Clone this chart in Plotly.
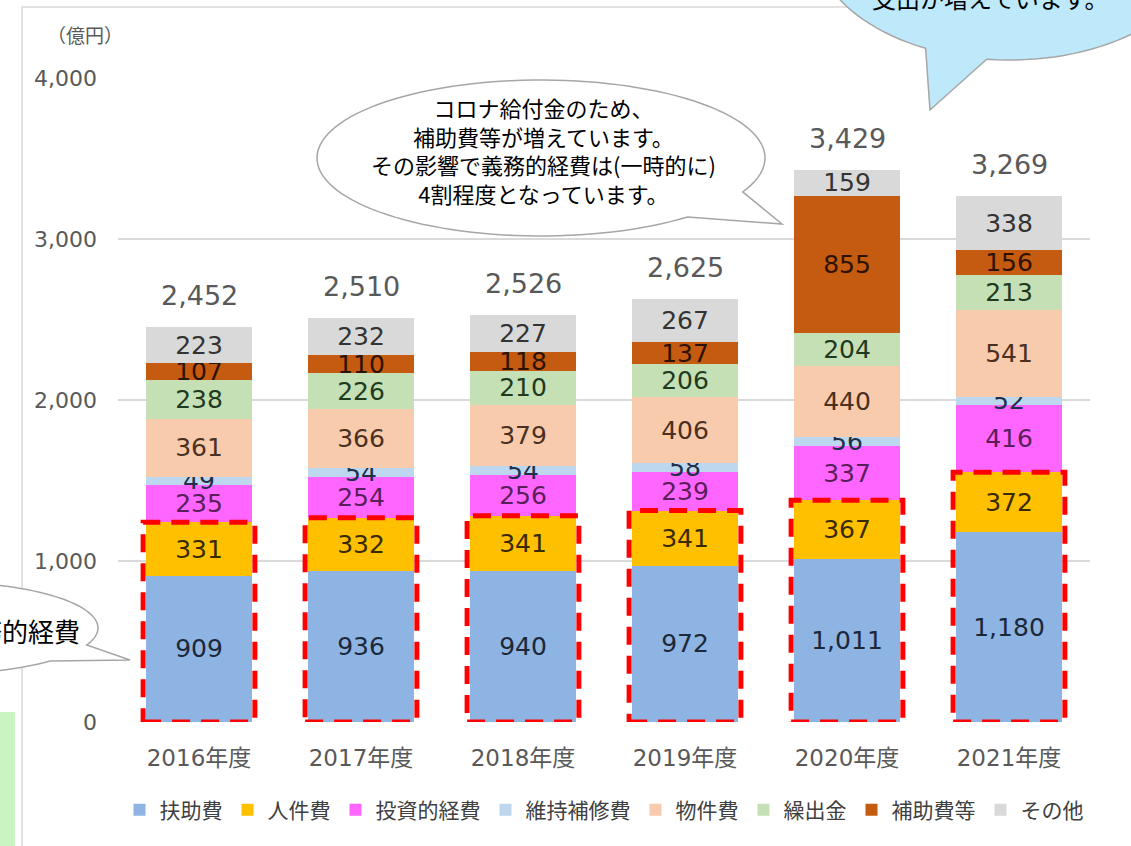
import math
import plotly.graph_objects as go

years = ["2016年度", "2017年度", "2018年度", "2019年度", "2020年度", "2021年度"]
series_names = ["扶助費", "人件費", "投資的経費", "維持補修費", "物件費", "繰出金", "補助費等", "その他"]
fujo = [909, 936, 940, 972, 1011, 1180]
jinken = [331, 332, 341, 341, 367, 372]
toshi = [235, 254, 256, 239, 337, 416]
iji = [49, 54, 54, 58, 56, 52]
bukken = [361, 366, 379, 406, 440, 541]
kuridashi = [238, 226, 210, 206, 204, 213]
hojo = [107, 110, 118, 137, 855, 156]
sonota = [223, 232, 227, 267, 159, 338]
totals = [2452, 2510, 2526, 2625, 3429, 3269]
y_ticks = [0, 1000, 2000, 3000, 4000]

series_values = [fujo, jinken, toshi, iji, bukken, kuridashi, hojo, sonota]
colors = ["#8db4e2", "#ffc000", "#ff66ff", "#bdd7ee", "#f8cbad", "#c5e0b4", "#c55a11", "#d9d9d9"]
text_colors = ["#1c2838", "#3a2a00", "#5a1f5a", "#1e2f4a", "#4a3020", "#1f3a1f", "#2e1200", "#333333"]

FONT = "DejaVu Sans, Noto Sans CJK JP, sans-serif"
JP = "Noto Sans CJK JP, sans-serif"

W, H = 1131, 846
L, R, T, B = 118, 41, 78, 124
PW, PH = W - L - R, H - T - B


def px(x):
    return (x - L) / PW


def py(y):
    return (T + PH - y) / PH


def callout_path(cx, cy, rx, ry, t_start, t_end, tip, n=120):
    pts = []
    if t_end < t_start:
        t_end += 2 * math.pi
    for i in range(n + 1):
        t = t_start + (t_end - t_start) * i / n
        pts.append((cx + rx * math.cos(t), cy + ry * math.sin(t)))
    pts.append(tip)
    d = "M " + " L ".join(f"{px(x):.5f},{py(y):.5f}" for x, y in pts) + " Z"
    return d


fig = go.Figure()
for name, vals, col, tcol in zip(series_names, series_values, colors, text_colors):
    fig.add_trace(go.Bar(
        name=name, x=years, y=vals, marker=dict(color=col, line=dict(width=0)),
        text=vals, texttemplate="%{y:,}", textposition="inside",
        insidetextanchor="middle", textangle=0,
        textfont=dict(family=FONT, size=25, color=tcol),
        hoverinfo="skip",
    ))

shapes = []
# chart frame
shapes.append(dict(type="rect", xref="paper", yref="paper", x0=px(22), x1=px(1150), y0=py(7), y1=py(870),
                   line=dict(color="#d9d9d9", width=1.5), fillcolor="rgba(0,0,0,0)", layer="below"))
# green strip bottom-left
shapes.append(dict(type="rect", xref="paper", yref="paper", x0=px(0), x1=px(15), y0=py(712), y1=py(850),
                   line=dict(width=0), fillcolor="rgba(185,240,175,0.75)", layer="above"))
# dashed rectangles around mandatory expenses
for i, (a, b) in enumerate(zip(fujo, jinken)):
    shapes.append(dict(type="rect", xref="x", yref="y", x0=i - 0.345, x1=i + 0.345, y0=0, y1=a + b,
                       line=dict(color="#ff0000", width=5, dash="18px,11px"),
                       fillcolor="rgba(0,0,0,0)", layer="above"))
# middle callout
shapes.append(dict(type="path", xref="paper", yref="paper",
                   path=callout_path(541, 158, 224, 78, 0.856, 0.45, (782, 224)),
                   line=dict(color="#a6a6a6", width=1.5), fillcolor="#ffffff", layer="above"))
# top-right callout
shapes.append(dict(type="path", xref="paper", yref="paper",
                   path=callout_path(1010, -60, 196, 120, 2.016, 1.69, (930, 110)),
                   line=dict(color="#a6a6a6", width=1.5), fillcolor="#bde9fb", layer="above"))
# left callout
shapes.append(dict(type="path", xref="paper", yref="paper",
                   path=callout_path(-60, 628, 158, 46, 0.8, 0.38, (130, 660)),
                   line=dict(color="#a6a6a6", width=1.5), fillcolor="#ffffff", layer="above"))

annotations = []
for yr, tot in zip(years, totals):
    annotations.append(dict(x=yr, y=tot, xref="x", yref="y", text=f"{tot:,}", showarrow=False,
                            xanchor="center", yanchor="bottom", yshift=14,
                            font=dict(family=FONT, size=27, color="#595959")))
annotations.append(dict(x=px(85), y=py(35), xref="paper", yref="paper", text="（億円）", showarrow=False,
                        xanchor="center", yanchor="middle",
                        font=dict(family=JP, size=19, color="#595959")))
annotations.append(dict(x=px(543), y=py(150), xref="paper", yref="paper",
                        text="コロナ給付金のため、<br>補助費等が増えています。<br>その影響で義務的経費は(一時的に)<br>4割程度となっています。",
                        showarrow=False, align="center", xanchor="center", yanchor="middle",
                        font=dict(family=JP, size=22, color="#000000")))
annotations.append(dict(x=px(990), y=py(-2), xref="paper", yref="paper", text="支出が増えています。",
                        showarrow=False, xanchor="center", yanchor="middle",
                        font=dict(family=JP, size=24, color="#000000")))
annotations.append(dict(x=px(82), y=py(630), xref="paper", yref="paper", text="義務的経費",
                        showarrow=False, xanchor="right", yanchor="middle",
                        font=dict(family=JP, size=26, color="#000000")))

fig.update_layout(
    width=W, height=H,
    margin=dict(l=L, r=R, t=T, b=B, autoexpand=False),
    paper_bgcolor="#ffffff", plot_bgcolor="#ffffff",
    barmode="stack", bargap=0.346,
    uniformtext=dict(minsize=25, mode="show"),
    font=dict(family=FONT, color="#404040"),
    shapes=shapes, annotations=annotations,
    legend=dict(orientation="h", x=0.5, xanchor="center", y=py(810), yanchor="middle",
                traceorder="normal", font=dict(family=JP, size=21, color="#404040"),
                itemwidth=30, bgcolor="rgba(0,0,0,0)"),
    showlegend=True,
)
fig.update_xaxes(showline=False, ticks="", tickfont=dict(family=FONT, size=23, color="#595959"),
                 ticklabelstandoff=20)
fig.update_yaxes(range=[0, 4000], tickvals=y_ticks, tickformat=",", showline=False, ticks="",
                 gridcolor="#d9d9d9", gridwidth=1.5, zeroline=False,
                 tickfont=dict(family=FONT, size=22, color="#595959"), ticklabelstandoff=20)

fig.write_html("out.html", config={"displayModeBar": False},
               post_script="document.body.style.margin='0';document.body.style.padding='0';")
